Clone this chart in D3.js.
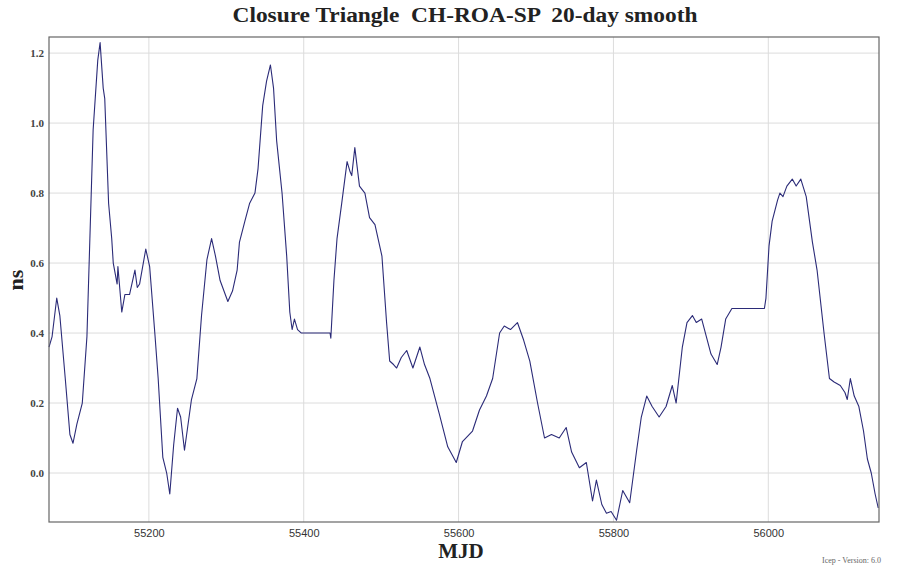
<!DOCTYPE html>
<html>
<head>
<meta charset="utf-8">
<script src="https://cdn.jsdelivr.net/npm/d3@7"></script>
<style>
  body { margin: 0; background: #fff; }
  svg { display: block; }
</style>
</head>
<body>
<svg id="chart" width="897" height="567"></svg>
<script>
// closure triangle values
var mjd = [55071, 55075, 55081, 55085, 55092, 55098, 55102, 55107, 55114, 55120,
  55128, 55134, 55137, 55141, 55143, 55148, 55152, 55154, 55159, 55160,
  55165, 55169, 55175, 55182, 55185, 55188, 55196, 55201, 55208, 55212,
  55218, 55223, 55227, 55232, 55237, 55241, 55246, 55255, 55262, 55268,
  55275, 55281, 55286, 55292, 55302, 55308, 55314, 55317, 55324, 55330,
  55337, 55341, 55347, 55352, 55357, 55361, 55365, 55372, 55378, 55382,
  55385, 55388, 55392, 55397, 55434, 55435, 55439, 55443, 55449, 55456,
  55460, 55462, 55466, 55472, 55479, 55485, 55492, 55501, 55507, 55511,
  55516, 55520, 55526, 55533, 55541, 55550, 55556, 55563, 55575, 55586,
  55597, 55605, 55618, 55627, 55636, 55644, 55653, 55659, 55667, 55676,
  55684, 55692, 55702, 55711, 55720, 55730, 55739, 55746, 55756, 55765,
  55773, 55778, 55785, 55791, 55797, 55804, 55812, 55821, 55830, 55836,
  55843, 55850, 55859, 55868, 55876, 55881, 55889, 55895, 55902, 55907,
  55914, 55920, 55926, 55934, 55939, 55945, 55953, 55995, 55997, 56001,
  56005, 56012, 56015, 56019, 56024, 56031, 56036, 56042, 56049, 56057,
  56063, 56072, 56079, 56085, 56093, 56099, 56102, 56106, 56111, 56117,
  56123, 56128, 56133, 56138, 56142];
var ns = [0.36, 0.39, 0.50, 0.45, 0.27, 0.11, 0.085, 0.14, 0.20, 0.39,
  0.98, 1.18, 1.23, 1.10, 1.07, 0.77, 0.67, 0.60, 0.54, 0.59,
  0.46, 0.51, 0.51, 0.58, 0.53, 0.54, 0.64, 0.59, 0.39, 0.27,
  0.045, 0.0, -0.06, 0.08, 0.185, 0.16, 0.065, 0.21, 0.27, 0.45,
  0.61, 0.67, 0.62, 0.55, 0.49, 0.52, 0.58, 0.66, 0.72, 0.77,
  0.80, 0.87, 1.05, 1.12, 1.166, 1.10, 0.95, 0.80, 0.62, 0.46,
  0.41, 0.44, 0.41, 0.40, 0.40, 0.385, 0.55, 0.67, 0.77, 0.89,
  0.86, 0.85, 0.93, 0.82, 0.80, 0.73, 0.71, 0.62, 0.43, 0.32,
  0.31, 0.30, 0.33, 0.35, 0.30, 0.36, 0.31, 0.27, 0.17, 0.075,
  0.03, 0.09, 0.12, 0.18, 0.22, 0.27, 0.40, 0.42, 0.41, 0.43,
  0.38, 0.32, 0.20, 0.10, 0.11, 0.10, 0.13, 0.06, 0.015, 0.03,
  -0.08, -0.02, -0.09, -0.115, -0.11, -0.135, -0.05, -0.085, 0.065, 0.16,
  0.22, 0.19, 0.16, 0.19, 0.25, 0.20, 0.36, 0.43, 0.45, 0.43,
  0.44, 0.39, 0.34, 0.31, 0.36, 0.44, 0.47, 0.47, 0.50, 0.65,
  0.72, 0.78, 0.80, 0.79, 0.82, 0.84, 0.82, 0.84, 0.79, 0.66,
  0.58, 0.40, 0.27, 0.26, 0.25, 0.23, 0.21, 0.27, 0.22, 0.19,
  0.12, 0.04, 0.0, -0.06, -0.10];
var xTicks = [55200, 55400, 55600, 55800, 56000];
var yTicks = [0.0, 0.2, 0.4, 0.6, 0.8, 1.0, 1.2];

var svg = d3.select("#chart");
var margin = {left: 49, right: 18, top: 37, bottom: 45};
var width = 897 - margin.left - margin.right,
    height = 567 - margin.top - margin.bottom;

var x = d3.scaleLinear().domain([55071, 56143]).range([0, width]);
var y = d3.scaleLinear().domain([-0.14, 1.246]).range([height, 0]);

var g = svg.append("g").attr("transform", "translate(" + margin.left + "," + margin.top + ")");

// grid
g.append("g").selectAll("line").data(yTicks).enter().append("line")
  .attr("x1", 0).attr("x2", width)
  .attr("y1", function(d){ return y(d); }).attr("y2", function(d){ return y(d); })
  .attr("stroke", "#dcdcdc").attr("stroke-width", 1);
g.append("g").selectAll("line").data(xTicks).enter().append("line")
  .attr("y1", 0).attr("y2", height)
  .attr("x1", function(d){ return x(d); }).attr("x2", function(d){ return x(d); })
  .attr("stroke", "#dcdcdc").attr("stroke-width", 1);

// axes
var xAxis = d3.axisBottom(x).tickValues(xTicks).tickSize(0).tickPadding(7).tickFormat(d3.format("d"));
var yAxis = d3.axisLeft(y).tickValues(yTicks).tickSize(0).tickPadding(5).tickFormat(d3.format(".1f"));
var gx = g.append("g").attr("transform", "translate(0," + height + ")").call(xAxis);
var gy = g.append("g").call(yAxis);
gx.select(".domain").remove();
gy.select(".domain").remove();
gx.selectAll("text").attr("font-family", "'Liberation Sans', Arial, sans-serif").attr("font-size", 11).attr("fill", "#333");
gy.selectAll("text").attr("font-family", "'Liberation Serif', 'Times New Roman', serif").attr("font-size", 11).attr("font-weight", "bold").attr("fill", "#444");

// series
var pts = mjd.map(function(d, i){ return [d, ns[i]]; });
g.append("path").datum(pts)
  .attr("fill", "none")
  .attr("stroke", "#2b2b78")
  .attr("stroke-width", 1.1)
  .attr("stroke-linejoin", "round")
  .attr("d", d3.line().x(function(d){ return x(d[0]); }).y(function(d){ return y(d[1]); }));

// frame
g.append("rect").attr("width", width).attr("height", height)
  .attr("fill", "none").attr("stroke", "#666").attr("stroke-width", 1.2);

// labels
svg.append("text").attr("x", 465).attr("y", 22).attr("text-anchor", "middle")
  .style("white-space", "pre")
  .attr("textLength", 465).attr("lengthAdjust", "spacingAndGlyphs")
  .attr("font-family", "'Liberation Serif', 'Times New Roman', serif")
  .attr("font-size", 20).attr("font-weight", "bold").attr("fill", "#222")
  .text("Closure Triangle  CH-ROA-SP  20-day smooth");
svg.append("text").attr("x", 461).attr("y", 558).attr("text-anchor", "middle")
  .attr("font-family", "'Liberation Serif', 'Times New Roman', serif")
  .attr("font-size", 21).attr("font-weight", "bold").attr("fill", "#222")
  .text("MJD");
svg.append("text").attr("transform", "translate(23,280) rotate(-90)").attr("text-anchor", "middle")
  .attr("font-family", "'Liberation Serif', 'Times New Roman', serif")
  .attr("font-size", 22).attr("font-weight", "bold").attr("fill", "#222")
  .text("ns");
svg.append("text").attr("x", 822).attr("y", 563)
  .attr("font-family", "'Liberation Serif', serif")
  .attr("font-size", 8).attr("fill", "#666")
  .text("Icep - Version: 6.0");
</script>
</body>
</html>
